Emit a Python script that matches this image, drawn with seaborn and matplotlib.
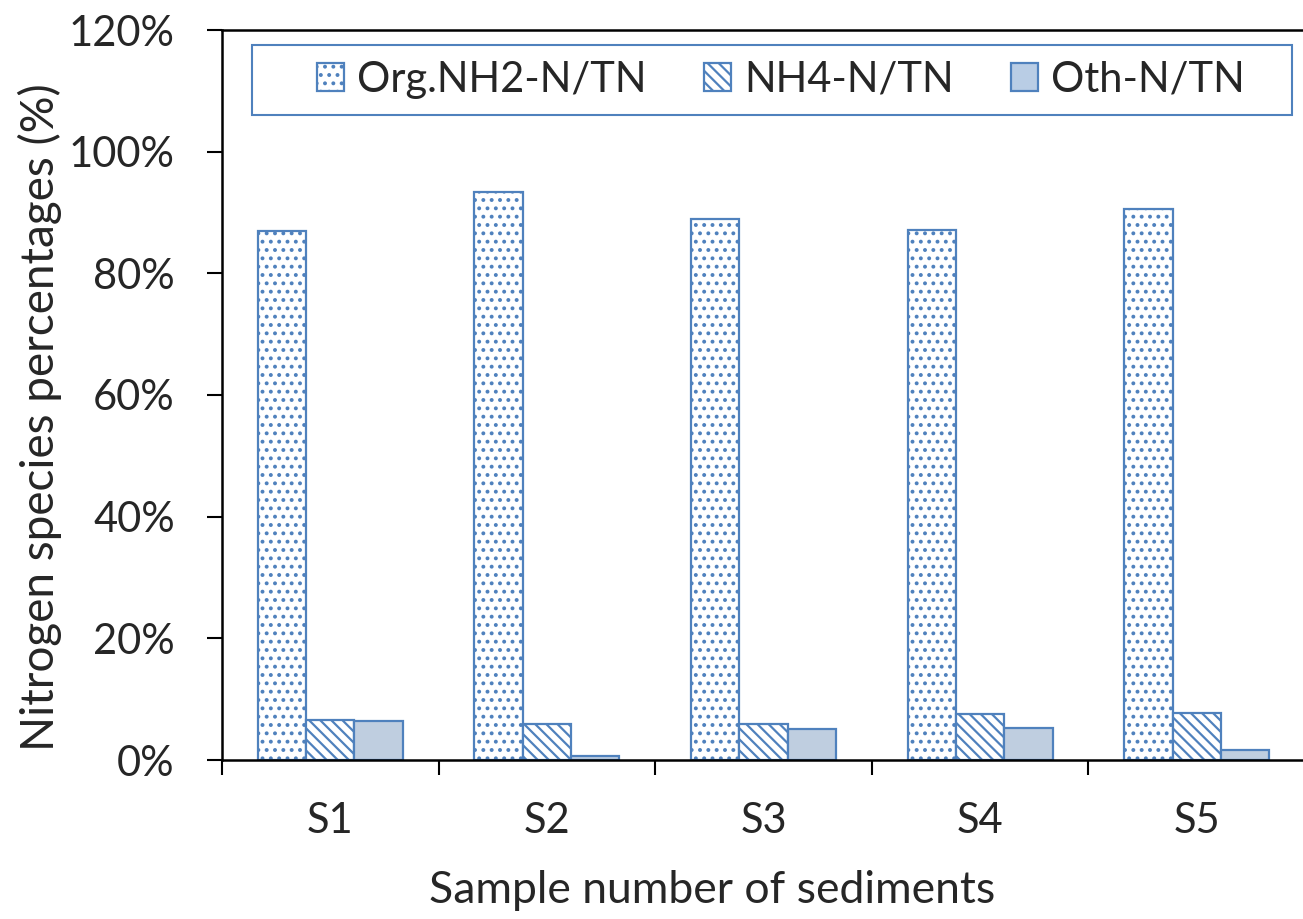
import matplotlib
matplotlib.use("Agg")
import matplotlib.pyplot as plt
from matplotlib.patches import Rectangle
import seaborn as sns
import pandas as pd
from matplotlib.ticker import FuncFormatter, FixedLocator

samples = ["S1", "S2", "S3", "S4", "S5"]
series = ["Org.NH2-N/TN", "NH4-N/TN", "Oth-N/TN"]
org_nh2 = [87.0, 93.4, 88.9, 87.1, 90.6]
nh4 = [6.6, 5.9, 5.9, 7.6, 7.7]
oth = [6.4, 0.6, 5.1, 5.3, 1.6]
yticks = [0, 20, 40, 60, 80, 100, 120]

rows = []
for name, vals in zip(series, [org_nh2, nh4, oth]):
    for s, v in zip(samples, vals):
        rows.append({"Sample": s, "Series": name, "Value": v})
df = pd.DataFrame(rows)

sns.set_style("white")
plt.rcParams["font.family"] = ["Lato", "DejaVu Sans"]
plt.rcParams["hatch.linewidth"] = 1.6

edge = "#4f81bd"
fills = ["white", "white", "#b9cde5"]
hatches = ["..", "\\\\\\", ""]

W, H = 1303, 919
fig = plt.figure(figsize=(W / 100, H / 100), dpi=100)
ax = fig.add_axes([222 / W, 1 - 760 / H, (1305 - 222) / W, (760 - 30) / H])

sns.barplot(data=df, x="Sample", y="Value", hue="Series", order=samples,
            hue_order=series, palette=fills, width=0.67, ax=ax,
            edgecolor=edge, linewidth=1.6, legend=True)

for cont, h in zip(ax.containers, hatches):
    for bar in cont:
        bar.set_hatch(h)
        bar.set_edgecolor(edge)

ax.set_ylim(0, 120)
ax.set_xlim(-0.5, 4.5)
ax.yaxis.set_major_locator(FixedLocator(yticks))
ax.yaxis.set_major_formatter(FuncFormatter(lambda v, p: f"{int(v)}%"))
ax.tick_params(axis="y", direction="out", length=11, width=1.5, color="black",
               labelsize=30, pad=23, left=True)

ax.xaxis.set_minor_locator(FixedLocator([-0.5, 0.5, 1.5, 2.5, 3.5, 4.5]))
ax.tick_params(axis="x", which="major", length=0, labelsize=30, pad=30)
ax.tick_params(axis="x", which="minor", direction="out", length=11, width=1.5,
               color="black", bottom=True)

for side in ["left", "bottom", "top"]:
    ax.spines[side].set_visible(True)
    ax.spines[side].set_color("black")
    ax.spines[side].set_linewidth(1.8)
ax.spines["right"].set_visible(False)

ax.set_xlabel("Sample number of sediments", fontsize=32)
ax.set_ylabel("Nitrogen species percentages (%)", fontsize=33)
ax.xaxis.set_label_coords((712 - 222) / 1083, (760 - 870) / 730)
ax.yaxis.set_label_coords((62 - 222) / 1083, (760 - 417) / 730)

handles, labels = ax.get_legend_handles_labels()
ax.get_legend().remove()
for hd, h, fc in zip(handles, hatches, fills):
    hd.set_hatch(h)
    hd.set_facecolor(fc)
    hd.set_edgecolor(edge)
    hd.set_linewidth(1.6)
leg = fig.legend(handles, labels, ncol=3, loc="center left",
                 bbox_to_anchor=(317 / W, 1 - 80 / H),
                 fontsize=30, frameon=False, handlelength=0.65, handleheight=0.65,
                 handletextpad=0.31, columnspacing=1.38, borderaxespad=0, borderpad=0)
fig.patches.append(Rectangle((252 / W, 1 - 115 / H), (1292 - 252) / W, 70 / H,
                             transform=fig.transFigure, fill=False,
                             edgecolor=edge, linewidth=1.5, zorder=5))

fig.savefig("out.png", dpi=100)
